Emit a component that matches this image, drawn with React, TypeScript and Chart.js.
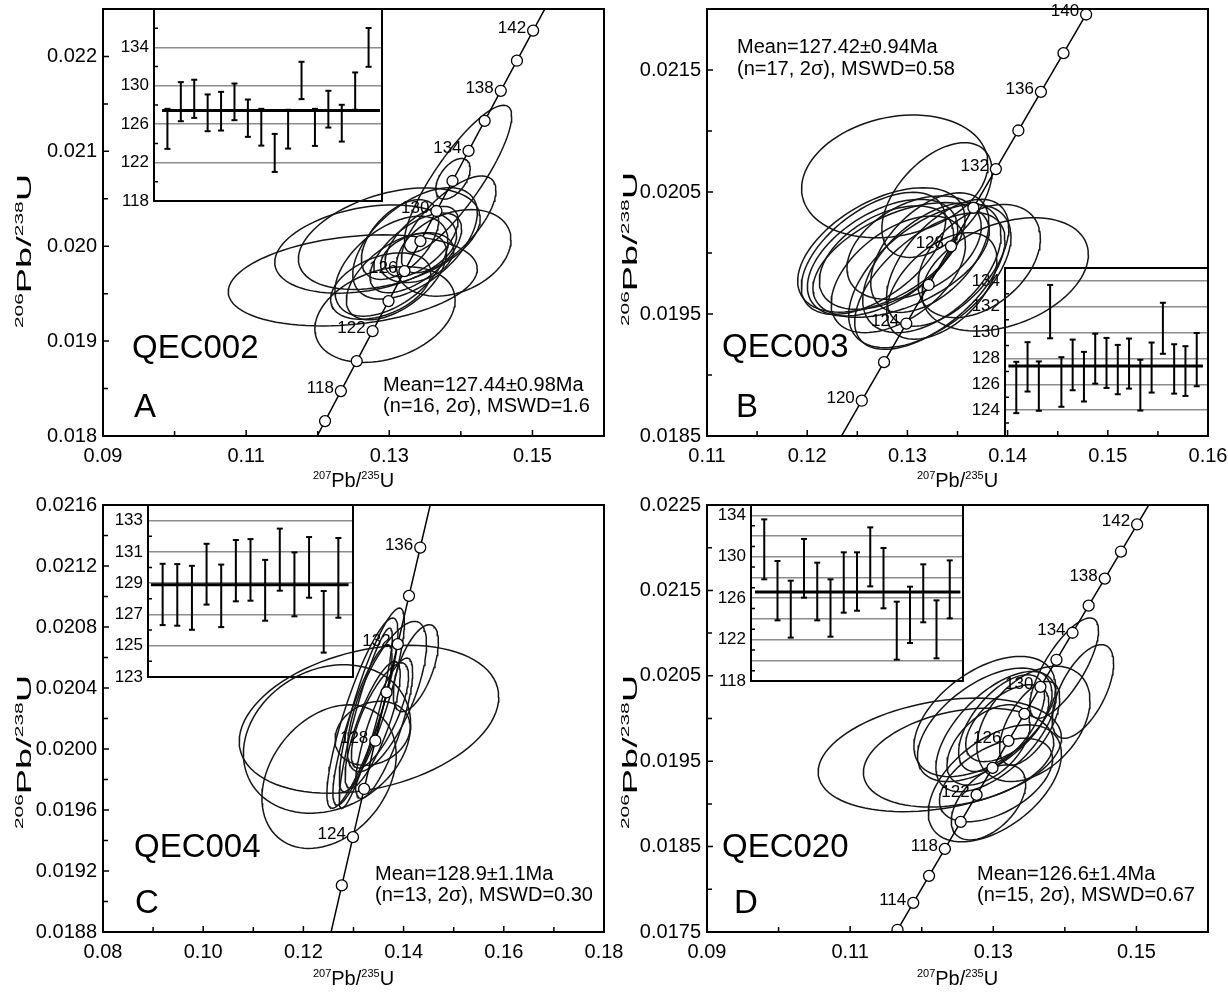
import React, { useEffect, useRef } from 'react';
import { Chart, registerables } from 'chart.js';

Chart.register(...registerables);

const FONT = "'Liberation Sans', Arial, Helvetica, sans-serif";
const W = 1228;
const H = 996;
const YW = 80; // forced y-axis box width (main)
const XH = 40; // forced x-axis box height (main)
const IYW = 50; // inset y-axis width
const YTITLE_STRETCH = 1.9;

// U decay constants (per Ma)
const LAMBDA_238 = 1.55125e-4;
const LAMBDA_235 = 9.8485e-4;
const concX = (t: number) => Math.expm1(LAMBDA_235 * t);
const concY = (t: number) => Math.expm1(LAMBDA_238 * t);

const CURVE_AGES = [96, 100, 104, 108, 112, 116, 120, 124, 128, 132, 136, 140, 144, 148, 152, 156, 160];

// ---------------- Panel A : QEC002 ----------------
const A_X_TICKS = [0.09, 0.11, 0.13, 0.15];
const A_X_TICK_LABELS = ['0.09', '0.11', '0.13', '0.15'];
const A_X_MINOR = [0.10, 0.12, 0.14];
const A_Y_TICKS = [0.018, 0.019, 0.020, 0.021, 0.022];
const A_Y_TICK_LABELS = ['0.018', '0.019', '0.020', '0.021', '0.022'];
const A_Y_MINOR = [0.0185, 0.0195, 0.0205, 0.0215];
const A_MARKER_AGES = [116, 118, 120, 122, 124, 126, 128, 130, 132, 134, 136, 138, 140, 142];
const A_LABEL_AGES = [118, 122, 126, 130, 134, 138, 142];
const A_ELL_X = [0.1249, 0.1267, 0.1300, 0.1294, 0.1390, 0.1389, 0.1396, 0.1383, 0.1336, 0.1303, 0.1310, 0.1337, 0.1339, 0.1288, 0.1315, 0.1345];
const A_ELL_Y = [0.01964, 0.01997, 0.02008, 0.01928, 0.01993, 0.02071, 0.02071, 0.02023, 0.02003, 0.01979, 0.01968, 0.01993, 0.01988, 0.01958, 0.02007, 0.02005];
const A_ELL_SX = [0.0174, 0.0127, 0.0127, 0.0098, 0.0080, 0.0024, 0.0075, 0.0066, 0.0087, 0.0079, 0.0070, 0.0064, 0.0051, 0.0070, 0.0054, 0.0051];
const A_ELL_SY = [0.00048, 0.000465, 0.000535, 0.000505, 0.000456, 0.000214, 0.000776, 0.00051, 0.000587, 0.000527, 0.000456, 0.00042, 0.000263, 0.00035, 0.00042, 0.00037];
const A_ELL_RHO = [0.25, 0.3, 0.4, 0.3, 0.3, 0.5, 0.85, 0.7, 0.55, 0.5, 0.55, 0.6, 0.3, 0.4, 0.5, 0.6];
const A_AGE_HIGH = [127.6, 130.38, 130.63, 129.1, 129.37, 130.24, 128.57, 127.6, 124.99, 127.5, 132.5, 127.6, 129.48, 128.02, 131.39, 136.02];
const A_AGE_LOW = [123.43, 126.31, 126.66, 125.27, 125.34, 126.42, 124.68, 123.77, 121.03, 123.46, 128.61, 123.74, 125.65, 124.19, 127.5, 131.98];
const A_MEAN = 127.44;
const A_INSET_TICKS = [118, 122, 126, 130, 134];
const A_INSET_LABELS = ['118', '122', '126', '130', '134'];
const A_INSET_GRID = [122, 126, 130, 134];
const A_INSET_MINOR = [120, 124, 128, 132, 136];

// ---------------- Panel B : QEC003 ----------------
const B_X_TICKS = [0.11, 0.12, 0.13, 0.14, 0.15, 0.16];
const B_X_TICK_LABELS = ['0.11', '0.12', '0.13', '0.14', '0.15', '0.16'];
const B_X_MINOR = [0.115, 0.125, 0.135, 0.145, 0.155];
const B_Y_TICKS = [0.0185, 0.0195, 0.0205, 0.0215];
const B_Y_TICK_LABELS = ['0.0185', '0.0195', '0.0205', '0.0215'];
const B_Y_MINOR = [0.019, 0.020, 0.021];
const B_MARKER_AGES = [120, 122, 124, 126, 128, 130, 132, 134, 136, 138, 140];
const B_LABEL_AGES = [120, 124, 128, 132, 136, 140];
const B_ELL_X = [0.12874, 0.13295, 0.13976, 0.1274, 0.12661, 0.12752, 0.12937, 0.13224, 0.13224, 0.13244, 0.13402, 0.13717, 0.12909, 0.13067, 0.13224, 0.13343, 0.12791];
const B_ELL_Y = [0.020628, 0.020434, 0.019825, 0.020025, 0.019997, 0.019962, 0.019943, 0.019811, 0.01977, 0.01988, 0.01992, 0.019934, 0.019825, 0.020044, 0.020003, 0.01973, 0.019962];
const B_ELL_SX = [0.0093, 0.0055, 0.0083, 0.00835, 0.0072, 0.0075, 0.0088, 0.0081, 0.0075, 0.0069, 0.0061, 0.0061, 0.0067, 0.0067, 0.0059, 0.0055, 0.0067];
const B_ELL_SY = [0.000503, 0.00047, 0.000464, 0.00051, 0.0005, 0.000478, 0.00047, 0.000587, 0.00056, 0.000533, 0.00052, 0.000464, 0.000478, 0.000424, 0.00049, 0.000437, 0.000424];
const B_ELL_RHO = [0.2, 0.5, 0.35, 0.5, 0.55, 0.5, 0.5, 0.55, 0.6, 0.5, 0.55, 0.4, 0.5, 0.4, 0.5, 0.5, 0.45];
const B_AGE_HIGH = [127.74, 129.26, 127.77, 133.69, 128.1, 129.46, 128.51, 129.92, 129.59, 129.05, 129.54, 127.9, 129.23, 132.31, 129.1, 128.95, 129.97];
const B_AGE_LOW = [123.77, 125.44, 123.95, 129.56, 124.26, 125.54, 124.67, 126.05, 125.72, 125.23, 125.67, 123.97, 125.36, 128.36, 125.28, 125.1, 125.85];
const B_MEAN = 127.42;
const B_INSET_TICKS = [124, 126, 128, 130, 132, 134];
const B_INSET_LABELS = ['124', '126', '128', '130', '132', '134'];
const B_INSET_GRID = [124, 126, 128, 130, 132, 134];
const B_INSET_MINOR = [123, 125, 127, 129, 131, 133];

// ---------------- Panel C : QEC004 ----------------
const C_X_TICKS = [0.08, 0.10, 0.12, 0.14, 0.16, 0.18];
const C_X_TICK_LABELS = ['0.08', '0.10', '0.12', '0.14', '0.16', '0.18'];
const C_X_MINOR = [0.09, 0.11, 0.13, 0.15, 0.17];
const C_Y_TICKS = [0.0188, 0.0192, 0.0196, 0.0200, 0.0204, 0.0208, 0.0212, 0.0216];
const C_Y_TICK_LABELS = ['0.0188', '0.0192', '0.0196', '0.0200', '0.0204', '0.0208', '0.0212', '0.0216'];
const C_Y_MINOR = [0.0190, 0.0194, 0.0198, 0.0202, 0.0206, 0.0210, 0.0214];
const C_MARKER_AGES = [122, 124, 126, 128, 130, 132, 134, 136];
const C_LABEL_AGES = [124, 128, 132, 136];
const C_ELL_X = [0.13309, 0.12472, 0.12512, 0.13382, 0.13179, 0.13366, 0.13667, 0.14244, 0.13179, 0.13382, 0.13528, 0.13244, 0.1361];
const C_ELL_Y = [0.020195, 0.020066, 0.019819, 0.020103, 0.020235, 0.020322, 0.020344, 0.02053, 0.020158, 0.020158, 0.02022, 0.020202, 0.020136];
const C_ELL_SX = [0.0259, 0.0167, 0.0134, 0.0075, 0.0071, 0.0065, 0.0079, 0.0045, 0.0059, 0.0055, 0.0057, 0.0053, 0.0057];
const C_ELL_SY = [0.000485, 0.000487, 0.000471, 0.00021, 0.000624, 0.000602, 0.000493, 0.000285, 0.000526, 0.000416, 0.000345, 0.000591, 0.00046];
const C_ELL_RHO = [0.3, 0.2, 0.3, 0.2, 0.85, 0.85, 0.7, 0.6, 0.85, 0.8, 0.75, 0.9, 0.8];
const C_AGE_HIGH = [130.24, 130.22, 130.11, 131.52, 130.19, 131.76, 131.82, 130.49, 132.49, 130.97, 131.95, 128.5, 131.89];
const C_AGE_LOW = [126.32, 126.28, 126.02, 127.63, 126.19, 127.84, 127.88, 126.6, 128.52, 126.88, 128.07, 124.56, 126.79];
const C_MEAN = 128.9;
const C_INSET_TICKS = [123, 125, 127, 129, 131, 133];
const C_INSET_LABELS = ['123', '125', '127', '129', '131', '133'];
const C_INSET_GRID = [125, 127, 129, 131, 133];
const C_INSET_MINOR = [124, 126, 128, 130, 132];

// ---------------- Panel D : QEC020 ----------------
const D_X_TICKS = [0.09, 0.11, 0.13, 0.15];
const D_X_TICK_LABELS = ['0.09', '0.11', '0.13', '0.15'];
const D_X_MINOR = [0.10, 0.12, 0.14];
const D_Y_TICKS = [0.0175, 0.0185, 0.0195, 0.0205, 0.0215, 0.0225];
const D_Y_TICK_LABELS = ['0.0175', '0.0185', '0.0195', '0.0205', '0.0215', '0.0225'];
const D_Y_MINOR = [0.018, 0.019, 0.020, 0.021, 0.022];
const D_MARKER_AGES = [112, 114, 116, 118, 120, 122, 124, 126, 128, 130, 132, 134, 136, 138, 140, 142];
const D_LABEL_AGES = [114, 118, 122, 126, 130, 134, 138, 142];
const D_ELL_X = [0.12253, 0.12515, 0.12881, 0.12881, 0.13561, 0.1399, 0.14251, 0.13022, 0.13038, 0.12933, 0.13038, 0.13116, 0.12933, 0.13195, 0.13508];
const D_ELL_Y = [0.019574, 0.019542, 0.020023, 0.019926, 0.019937, 0.02059, 0.020317, 0.019241, 0.01928, 0.019018, 0.019847, 0.019945, 0.019691, 0.019945, 0.019945];
const D_ELL_SX = [0.017, 0.0133, 0.0099, 0.0094, 0.0079, 0.0048, 0.0043, 0.0093, 0.0079, 0.0052, 0.0084, 0.006, 0.0058, 0.0058, 0.0042];
const D_ELL_SY = [0.000665, 0.000579, 0.000704, 0.000665, 0.000675, 0.000587, 0.000548, 0.000685, 0.000489, 0.00044, 0.000704, 0.000567, 0.00047, 0.00045, 0.000489];
const D_ELL_RHO = [0.3, 0.3, 0.5, 0.55, 0.4, 0.75, 0.6, 0.5, 0.5, 0.5, 0.6, 0.6, 0.5, 0.55, 0.6];
const D_AGE_HIGH = [133.61, 129.59, 127.69, 131.72, 129.43, 127.82, 130.43, 130.43, 132.84, 130.85, 125.66, 127.11, 129.27, 125.79, 129.65];
const D_AGE_LOW = [127.82, 123.86, 122.19, 126.05, 123.86, 122.28, 124.6, 124.79, 127.14, 125.02, 120.06, 121.67, 123.67, 120.19, 124.05];
const D_MEAN = 126.6;
const D_INSET_TICKS = [118, 120, 122, 124, 126, 128, 130, 132, 134];
const D_INSET_LABELS = ['118', '', '122', '', '126', '', '130', '', '134'];
const D_INSET_GRID = [120, 122, 124, 126, 128, 130, 132, 134];
const D_INSET_MINOR = [119, 121, 123, 125, 127, 129, 131, 133, 135];

type Area = { left: number; right: number; top: number; bottom: number };
type TextItem = { text: string; x: number; y: number; size: number };

interface MainPanel {
  id: string;
  area: Area;
  xMin: number; xMax: number; yMin: number; yMax: number;
  xTicks: number[]; xTickLabels: string[]; xMinor: number[];
  yTicks: number[]; yTickLabels: string[]; yMinor: number[];
  ellX: number[]; ellY: number[]; ellSX: number[]; ellSY: number[]; ellRho: number[];
  markerAges: number[]; labelAges: number[];
  texts: TextItem[];
  yTitle: [number, number];
  xTitle: [number, number];
}

interface InsetPanel {
  id: string;
  area: Area;
  yMin: number; yMax: number; xMax: number;
  ticks: number[]; labels: string[]; grid: number[]; minor: number[];
  low: number[]; high: number[]; mean: number; meanX: [number, number];
}

const PANELS: MainPanel[] = [
  {
    id: 'A', area: { left: 103, right: 604, top: 9, bottom: 436 },
    xMin: 0.09, xMax: 0.16, yMin: 0.018, yMax: 0.0225,
    xTicks: A_X_TICKS, xTickLabels: A_X_TICK_LABELS, xMinor: A_X_MINOR,
    yTicks: A_Y_TICKS, yTickLabels: A_Y_TICK_LABELS, yMinor: A_Y_MINOR,
    ellX: A_ELL_X, ellY: A_ELL_Y, ellSX: A_ELL_SX, ellSY: A_ELL_SY, ellRho: A_ELL_RHO,
    markerAges: A_MARKER_AGES, labelAges: A_LABEL_AGES,
    texts: [
      { text: 'QEC002', x: 132, y: 358, size: 33 },
      { text: 'A', x: 134, y: 417, size: 33 },
      { text: 'Mean=127.44\u00b10.98Ma', x: 383, y: 391, size: 20 },
      { text: '(n=16, 2\u03c3), MSWD=1.6', x: 383, y: 412, size: 20 },
    ],
    yTitle: [31, 251], xTitle: [353.5, 487],
  },
  {
    id: 'B', area: { left: 707, right: 1208, top: 9, bottom: 436 },
    xMin: 0.11, xMax: 0.16, yMin: 0.0185, yMax: 0.022,
    xTicks: B_X_TICKS, xTickLabels: B_X_TICK_LABELS, xMinor: B_X_MINOR,
    yTicks: B_Y_TICKS, yTickLabels: B_Y_TICK_LABELS, yMinor: B_Y_MINOR,
    ellX: B_ELL_X, ellY: B_ELL_Y, ellSX: B_ELL_SX, ellSY: B_ELL_SY, ellRho: B_ELL_RHO,
    markerAges: B_MARKER_AGES, labelAges: B_LABEL_AGES,
    texts: [
      { text: 'QEC003', x: 722, y: 357, size: 33 },
      { text: 'B', x: 736, y: 417, size: 33 },
      { text: 'Mean=127.42\u00b10.94Ma', x: 737, y: 53, size: 20 },
      { text: '(n=17, 2\u03c3), MSWD=0.58', x: 737, y: 75, size: 20 },
    ],
    yTitle: [637, 249], xTitle: [957.5, 487],
  },
  {
    id: 'C', area: { left: 103, right: 604, top: 505, bottom: 932 },
    xMin: 0.08, xMax: 0.18, yMin: 0.0188, yMax: 0.0216,
    xTicks: C_X_TICKS, xTickLabels: C_X_TICK_LABELS, xMinor: C_X_MINOR,
    yTicks: C_Y_TICKS, yTickLabels: C_Y_TICK_LABELS, yMinor: C_Y_MINOR,
    ellX: C_ELL_X, ellY: C_ELL_Y, ellSX: C_ELL_SX, ellSY: C_ELL_SY, ellRho: C_ELL_RHO,
    markerAges: C_MARKER_AGES, labelAges: C_LABEL_AGES,
    texts: [
      { text: 'QEC004', x: 134, y: 857, size: 33 },
      { text: 'C', x: 135, y: 913, size: 33 },
      { text: 'Mean=128.9\u00b11.1Ma', x: 375, y: 880, size: 20 },
      { text: '(n=13, 2\u03c3), MSWD=0.30', x: 375, y: 901, size: 20 },
    ],
    yTitle: [31, 752], xTitle: [353.5, 985],
  },
  {
    id: 'D', area: { left: 707, right: 1208, top: 505, bottom: 932 },
    xMin: 0.09, xMax: 0.16, yMin: 0.0175, yMax: 0.0225,
    xTicks: D_X_TICKS, xTickLabels: D_X_TICK_LABELS, xMinor: D_X_MINOR,
    yTicks: D_Y_TICKS, yTickLabels: D_Y_TICK_LABELS, yMinor: D_Y_MINOR,
    ellX: D_ELL_X, ellY: D_ELL_Y, ellSX: D_ELL_SX, ellSY: D_ELL_SY, ellRho: D_ELL_RHO,
    markerAges: D_MARKER_AGES, labelAges: D_LABEL_AGES,
    texts: [
      { text: 'QEC020', x: 722, y: 857, size: 33 },
      { text: 'D', x: 734, y: 913, size: 33 },
      { text: 'Mean=126.6\u00b11.4Ma', x: 977, y: 880, size: 20 },
      { text: '(n=15, 2\u03c3), MSWD=0.67', x: 977, y: 901, size: 20 },
    ],
    yTitle: [637, 752], xTitle: [957.5, 985],
  },
];

const INSETS: InsetPanel[] = [
  {
    id: 'iA', area: { left: 154, right: 382, top: 9, bottom: 201 },
    yMin: 118, yMax: 138, xMax: 17,
    ticks: A_INSET_TICKS, labels: A_INSET_LABELS, grid: A_INSET_GRID, minor: A_INSET_MINOR,
    low: A_AGE_LOW, high: A_AGE_HIGH, mean: A_MEAN, meanX: [0.6, 16.85],
  },
  {
    id: 'iB', area: { left: 1005, right: 1208, top: 268, bottom: 436 },
    yMin: 122, yMax: 135, xMax: 18,
    ticks: B_INSET_TICKS, labels: B_INSET_LABELS, grid: B_INSET_GRID, minor: B_INSET_MINOR,
    low: B_AGE_LOW, high: B_AGE_HIGH, mean: B_MEAN, meanX: [0.3, 17.55],
  },
  {
    id: 'iC', area: { left: 148, right: 353, top: 505, bottom: 677 },
    yMin: 123, yMax: 134, xMax: 14,
    ticks: C_INSET_TICKS, labels: C_INSET_LABELS, grid: C_INSET_GRID, minor: C_INSET_MINOR,
    low: C_AGE_LOW, high: C_AGE_HIGH, mean: C_MEAN, meanX: [0.2, 13.7],
  },
  {
    id: 'iD', area: { left: 751, right: 963, top: 505, bottom: 681 },
    yMin: 118, yMax: 135, xMax: 16,
    ticks: D_INSET_TICKS, labels: D_INSET_LABELS, grid: D_INSET_GRID, minor: D_INSET_MINOR,
    low: D_AGE_LOW, high: D_AGE_HIGH, mean: D_MEAN, meanX: [0.3, 15.8],
  },
];

function ellipsePoints(cx: number, cy: number, sx: number, sy: number, rho: number) {
  const pts: { x: number; y: number }[] = [];
  const k = Math.sqrt(1 - rho * rho);
  for (let d = 0; d <= 360; d += 4) {
    const t = (d * Math.PI) / 180;
    pts.push({ x: cx + sx * Math.cos(t), y: cy + sy * (rho * Math.cos(t) + k * Math.sin(t)) });
  }
  return pts;
}

function drawIsoTitle(ctx: CanvasRenderingContext2D, parts: [string, boolean][], cx: number, baseline: number, stretch = 1) {
  const big = `20px ${FONT}`;
  const small = `11px ${FONT}`;
  ctx.textAlign = 'left';
  ctx.textBaseline = 'alphabetic';
  let total = 0;
  const widths = parts.map(([t, s]) => {
    ctx.font = s ? small : big;
    const w = ctx.measureText(t).width;
    total += w;
    return w;
  });
  ctx.save();
  ctx.translate(cx, baseline);
  ctx.scale(stretch, 1);
  let xx = -total / 2;
  parts.forEach(([t, s], i) => {
    ctx.font = s ? small : big;
    ctx.fillText(t, xx, s ? -8 : 0);
    xx += widths[i];
  });
  ctx.restore();
}

function mainPlugin(p: MainPanel) {
  return {
    id: 'decor' + p.id,
    afterDraw(chart: any) {
      const ctx: CanvasRenderingContext2D = chart.ctx;
      const ca = chart.chartArea;
      const xs = chart.scales.x;
      const ys = chart.scales.y;
      ctx.save();
      ctx.strokeStyle = '#000';
      ctx.fillStyle = '#000';
      ctx.lineWidth = 2;
      ctx.strokeRect(ca.left, ca.top, ca.right - ca.left, ca.bottom - ca.top);
      ctx.lineWidth = 1.5;
      ctx.beginPath();
      const xt = (v: number, len: number) => {
        const X = xs.getPixelForValue(v);
        if (X <= ca.left + 1 || X >= ca.right - 1) return;
        ctx.moveTo(X, ca.bottom);
        ctx.lineTo(X, ca.bottom - len);
      };
      const yt = (v: number, len: number) => {
        const Y = ys.getPixelForValue(v);
        if (Y <= ca.top + 1 || Y >= ca.bottom - 1) return;
        ctx.moveTo(ca.left, Y);
        ctx.lineTo(ca.left + len, Y);
      };
      p.xTicks.forEach((v) => xt(v, 6));
      p.xMinor.forEach((v) => xt(v, 5));
      p.yTicks.forEach((v) => yt(v, 6));
      p.yMinor.forEach((v) => yt(v, 5));
      ctx.stroke();

      // concordia age labels
      ctx.font = `17px ${FONT}`;
      ctx.textAlign = 'right';
      ctx.textBaseline = 'alphabetic';
      p.labelAges.forEach((age) => {
        const X = xs.getPixelForValue(concX(age));
        const Y = ys.getPixelForValue(concY(age));
        ctx.fillText(String(age), X - 7, Y + 2);
      });

      // annotations
      ctx.textAlign = 'left';
      p.texts.forEach((t) => {
        ctx.font = `${t.size}px ${FONT}`;
        ctx.fillText(t.text, t.x, t.y);
      });

      // axis titles
      drawIsoTitle(ctx, [['207', true], ['Pb/', false], ['235', true], ['U', false]], p.xTitle[0], p.xTitle[1]);
      ctx.save();
      ctx.translate(p.yTitle[0], p.yTitle[1]);
      ctx.rotate(-Math.PI / 2);
      drawIsoTitle(ctx, [['206', true], ['Pb/', false], ['238', true], ['U', false]], 0, 0, YTITLE_STRETCH);
      ctx.restore();
      ctx.restore();
    },
  };
}

function mainConfig(p: MainPanel): any {
  const datasets: any[] = [];
  datasets.push({
    data: p.markerAges.map((t) => ({ x: concX(t), y: concY(t) })),
    showLine: false,
    pointRadius: 5.5,
    pointBackgroundColor: '#fff',
    pointBorderColor: '#000',
    pointBorderWidth: 1.3,
    order: 0,
  });
  datasets.push({
    data: CURVE_AGES.map((t) => ({ x: concX(t), y: concY(t) })),
    showLine: true,
    borderColor: '#000',
    borderWidth: 1.5,
    pointRadius: 0,
    order: 1,
  });
  p.ellX.forEach((cx, i) => {
    datasets.push({
      data: ellipsePoints(cx, p.ellY[i], p.ellSX[i], p.ellSY[i], p.ellRho[i]),
      showLine: true,
      borderColor: '#161616',
      borderWidth: 1.5,
      pointRadius: 0,
      fill: false,
      tension: 0,
      order: 2,
    });
  });
  const tickFont = { size: 20, family: FONT };
  return {
    type: 'scatter',
    data: { datasets },
    options: {
      responsive: false,
      animation: false,
      devicePixelRatio: 1,
      events: [],
      layout: {
        padding: {
          left: p.area.left - YW,
          top: p.area.top,
          right: W - p.area.right,
          bottom: H - p.area.bottom - XH,
        },
      },
      plugins: { legend: { display: false }, tooltip: { enabled: false } },
      scales: {
        x: {
          type: 'linear',
          min: p.xMin,
          max: p.xMax,
          grid: { display: false, drawTicks: false, tickLength: 0 },
          border: { display: false },
          afterBuildTicks: (s: any) => {
            s.ticks = p.xTicks.map((v) => ({ value: v }));
          },
          afterFit: (s: any) => {
            s.height = XH;
            s.paddingLeft = 0;
            s.paddingRight = 0;
          },
          ticks: {
            autoSkip: false,
            maxRotation: 0,
            padding: 8,
            color: '#000',
            font: tickFont,
            callback: (_v: any, i: number) => p.xTickLabels[i],
          },
        },
        y: {
          type: 'linear',
          min: p.yMin,
          max: p.yMax,
          grid: { display: false, drawTicks: false, tickLength: 0 },
          border: { display: false },
          afterBuildTicks: (s: any) => {
            s.ticks = p.yTicks.map((v) => ({ value: v }));
          },
          afterFit: (s: any) => {
            s.width = YW;
            s.paddingTop = 0;
            s.paddingBottom = 0;
          },
          ticks: {
            autoSkip: false,
            padding: 6,
            color: '#000',
            font: tickFont,
            callback: (_v: any, i: number) => p.yTickLabels[i],
          },
        },
      },
    },
    plugins: [mainPlugin(p)],
  };
}

function insetPlugin(q: InsetPanel) {
  return {
    id: 'inset' + q.id,
    afterDraw(chart: any) {
      const ctx: CanvasRenderingContext2D = chart.ctx;
      const ca = chart.chartArea;
      const ys = chart.scales.y;
      ctx.save();
      ctx.strokeStyle = '#000';
      ctx.lineWidth = 1.5;
      ctx.beginPath();
      q.minor.forEach((v) => {
        const Y = ys.getPixelForValue(v);
        if (Y <= ca.top + 1 || Y >= ca.bottom - 1) return;
        ctx.moveTo(ca.left, Y);
        ctx.lineTo(ca.left + 4, Y);
      });
      ctx.stroke();
      ctx.lineWidth = 2;
      ctx.strokeRect(ca.left, ca.top, ca.right - ca.left, ca.bottom - ca.top);
      ctx.restore();
    },
  };
}

function insetConfig(q: InsetPanel): any {
  const err: { x: number; y: number | null }[] = [];
  q.low.forEach((lo, i) => {
    err.push({ x: i + 1, y: lo }, { x: i + 1, y: q.high[i] }, { x: i + 1, y: null });
  });
  return {
    type: 'scatter',
    data: {
      datasets: [
        {
          data: [
            { x: q.meanX[0], y: q.mean },
            { x: q.meanX[1], y: q.mean },
          ],
          showLine: true,
          borderColor: '#000',
          borderWidth: 3,
          pointRadius: 0,
          order: 0,
        },
        {
          data: err,
          showLine: true,
          spanGaps: false,
          borderColor: '#000',
          borderWidth: 2,
          pointStyle: 'line',
          pointRadius: 3,
          pointBorderWidth: 2,
          pointBorderColor: '#000',
          order: 1,
        },
      ],
    },
    options: {
      responsive: false,
      animation: false,
      devicePixelRatio: 1,
      events: [],
      layout: {
        padding: {
          left: q.area.left - IYW,
          top: q.area.top,
          right: W - q.area.right,
          bottom: H - q.area.bottom,
        },
      },
      plugins: { legend: { display: false }, tooltip: { enabled: false } },
      scales: {
        x: { type: 'linear', display: false, min: 0, max: q.xMax },
        y: {
          type: 'linear',
          min: q.yMin,
          max: q.yMax,
          border: { display: false },
          grid: {
            drawTicks: false,
            tickLength: 0,
            lineWidth: 1.5,
            color: (c: any) => (c.tick && q.grid.includes(c.tick.value) ? '#8c8c8c' : 'rgba(0,0,0,0)'),
          },
          afterBuildTicks: (s: any) => {
            s.ticks = q.ticks.map((v) => ({ value: v }));
          },
          afterFit: (s: any) => {
            s.width = IYW;
            s.paddingTop = 0;
            s.paddingBottom = 0;
          },
          ticks: {
            autoSkip: false,
            padding: 5,
            color: '#000',
            font: { size: 17, family: FONT },
            callback: (_v: any, i: number) => q.labels[i],
          },
        },
      },
    },
    plugins: [insetPlugin(q)],
  };
}

export default function App() {
  const refs = useRef<(HTMLCanvasElement | null)[]>([]);
  useEffect(() => {
    const charts: Chart[] = [];
    INSETS.forEach((q, i) => {
      const c = refs.current[i];
      if (c) charts.push(new Chart(c, insetConfig(q)));
    });
    PANELS.forEach((p, i) => {
      const c = refs.current[INSETS.length + i];
      if (c) charts.push(new Chart(c, mainConfig(p)));
    });
    return () => charts.forEach((c) => c.destroy());
  }, []);
  const n = INSETS.length + PANELS.length;
  return (
    <div style={{ position: 'absolute', left: 0, top: 0, width: W, height: H, background: '#fff', overflow: 'hidden' }}>
      {Array.from({ length: n }).map((_, i) => (
        <canvas
          key={i}
          ref={(el) => {
            refs.current[i] = el;
          }}
          width={W}
          height={H}
          style={{ position: 'absolute', left: 0, top: 0, width: W, height: H }}
        />
      ))}
    </div>
  );
}
